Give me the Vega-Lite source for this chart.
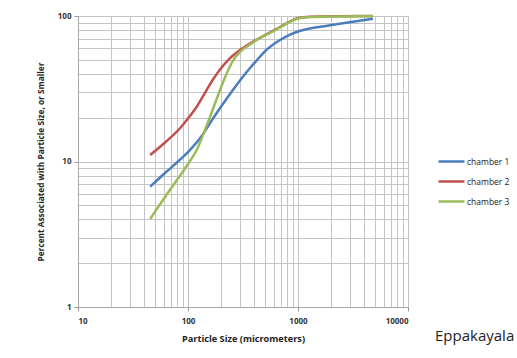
{
  "$schema": "https://vega.github.io/schema/vega-lite/v6.json",
  "width": 330,
  "height": 291,
  "autosize": "none",
  "padding": {"left": 78, "top": 16, "right": 109, "bottom": 51},
  "background": "white",
  "config": {
    "view": {"stroke": "#c4c4c4", "strokeWidth": 1},
    "font": "Open Sans"
  },
  "title": {
    "text": "Eppakayala",
    "orient": "bottom",
    "anchor": "start",
    "frame": "group",
    "dx": 357,
    "dy": -14,
    "offset": 0,
    "fontSize": 15,
    "fontWeight": "normal",
    "font": "Open Sans",
    "color": "#222222"
  },
  "data": {
    "values": [
      {"series": "chamber 1", "size": 45.3, "pct": 6.71},
      {"series": "chamber 1", "size": 61.8, "pct": 8.34},
      {"series": "chamber 1", "size": 81.1, "pct": 10.0},
      {"series": "chamber 1", "size": 100, "pct": 11.62},
      {"series": "chamber 1", "size": 133.2, "pct": 14.97},
      {"series": "chamber 1", "size": 169.8, "pct": 19.9},
      {"series": "chamber 1", "size": 240.9, "pct": 29.1},
      {"series": "chamber 1", "size": 341.7, "pct": 41.2},
      {"series": "chamber 1", "size": 424, "pct": 49.8},
      {"series": "chamber 1", "size": 522.7, "pct": 58.9},
      {"series": "chamber 1", "size": 686, "pct": 68.4},
      {"series": "chamber 1", "size": 846, "pct": 74.6},
      {"series": "chamber 1", "size": 1000, "pct": 78.3},
      {"series": "chamber 1", "size": 1954, "pct": 86.3},
      {"series": "chamber 1", "size": 4808, "pct": 95.8},
      {"series": "chamber 2", "size": 45.3, "pct": 11.08},
      {"series": "chamber 2", "size": 61.8, "pct": 13.51},
      {"series": "chamber 2", "size": 84.6, "pct": 16.92},
      {"series": "chamber 2", "size": 100, "pct": 19.75},
      {"series": "chamber 2", "size": 120, "pct": 23.8},
      {"series": "chamber 2", "size": 145.8, "pct": 30.5},
      {"series": "chamber 2", "size": 169.8, "pct": 36.9},
      {"series": "chamber 2", "size": 203.8, "pct": 44.6},
      {"series": "chamber 2", "size": 240.9, "pct": 51.4},
      {"series": "chamber 2", "size": 297, "pct": 58.4},
      {"series": "chamber 2", "size": 366, "pct": 64.7},
      {"series": "chamber 2", "size": 522.7, "pct": 75.2},
      {"series": "chamber 2", "size": 686, "pct": 84.0},
      {"series": "chamber 2", "size": 846, "pct": 91.7},
      {"series": "chamber 2", "size": 1000, "pct": 96.9},
      {"series": "chamber 2", "size": 1286, "pct": 98.9},
      {"series": "chamber 2", "size": 2409, "pct": 99.7},
      {"series": "chamber 2", "size": 4808, "pct": 100},
      {"series": "chamber 3", "size": 45.3, "pct": 4.03},
      {"series": "chamber 3", "size": 61.8, "pct": 5.7},
      {"series": "chamber 3", "size": 81.1, "pct": 7.64},
      {"series": "chamber 3", "size": 100, "pct": 9.61},
      {"series": "chamber 3", "size": 120, "pct": 12.0},
      {"series": "chamber 3", "size": 142.7, "pct": 16.46},
      {"series": "chamber 3", "size": 169.8, "pct": 23.3},
      {"series": "chamber 3", "size": 195.4, "pct": 31.0},
      {"series": "chamber 3", "size": 221.6, "pct": 39.3},
      {"series": "chamber 3", "size": 258.1, "pct": 49.8},
      {"series": "chamber 3", "size": 297, "pct": 56.6},
      {"series": "chamber 3", "size": 366, "pct": 63.7},
      {"series": "chamber 3", "size": 451, "pct": 70.6},
      {"series": "chamber 3", "size": 556.6, "pct": 76.4},
      {"series": "chamber 3", "size": 686, "pct": 83.4},
      {"series": "chamber 3", "size": 846, "pct": 91.0},
      {"series": "chamber 3", "size": 1000, "pct": 96.1},
      {"series": "chamber 3", "size": 1286, "pct": 98.4},
      {"series": "chamber 3", "size": 2409, "pct": 99.4},
      {"series": "chamber 3", "size": 4808, "pct": 99.7}
    ]
  },
  "mark": {"type": "line", "interpolate": "monotone", "strokeWidth": 2.5},
  "encoding": {
    "x": {
      "field": "size",
      "type": "quantitative",
      "scale": {"type": "log", "domain": [10, 10000], "nice": false},
      "axis": {
        "title": "Particle Size (micrometers)",
        "titleFontSize": 9.2,
        "titleFontWeight": "bold",
        "titleColor": "#222222",
        "titlePadding": 9,
        "values": [10,20,30,40,50,60,70,80,90,100,200,300,400,500,600,700,800,900,1000,2000,3000,4000,5000,6000,7000,8000,9000,10000],
        "labelExpr": "indexof([10,100,1000,10000], datum.value) >= 0 ? datum.label : ''",
        "format": "d",
        "labelFontSize": 8,
        "labelFontWeight": "bold",
        "labelColor": "#333333",
        "labelPadding": 6,
        "labelOverlap": false,
        "domainColor": "#a8a8a8",
        "gridColor": "#c4c4c4",
        "tickColor": "#999999",
        "tickSize": 4,
        "tickOpacity": {"condition": {"test": "indexof([10,100,1000,10000], datum.value) >= 0", "value": 1}, "value": 0}
      }
    },
    "y": {
      "field": "pct",
      "type": "quantitative",
      "scale": {"type": "log", "domain": [1, 100], "nice": false},
      "axis": {
        "title": "Percent Associated with Particle Size, or Smaller",
        "titleFontSize": 8.3,
        "titleFontWeight": "bold",
        "titleColor": "#222222",
        "titlePadding": 12,
        "values": [1,2,3,4,5,6,7,8,9,10,20,30,40,50,60,70,80,90,100],
        "labelExpr": "indexof([1,10,100], datum.value) >= 0 ? datum.label : ''",
        "format": "d",
        "labelFontSize": 8,
        "labelFontWeight": "bold",
        "labelColor": "#333333",
        "labelPadding": 3,
        "labelOverlap": false,
        "domainColor": "#a8a8a8",
        "gridColor": "#c4c4c4",
        "tickColor": "#999999",
        "tickSize": 4,
        "tickOpacity": {"condition": {"test": "indexof([1,10,100], datum.value) >= 0", "value": 1}, "value": 0}
      }
    },
    "color": {
      "field": "series",
      "type": "nominal",
      "scale": {"domain": ["chamber 1", "chamber 2", "chamber 3"], "range": ["#4a7ebb", "#c0504d", "#9bbb59"]},
      "legend": {
        "title": null,
        "orient": "none",
        "legendX": 359,
        "legendY": 131,
        "symbolType": "stroke",
        "symbolSize": 676,
        "symbolStrokeWidth": 2.5,
        "labelFontSize": 8.5,
        "labelColor": "#222222",
        "labelOffset": 1,
        "rowPadding": 0
      }
    }
  }
}
